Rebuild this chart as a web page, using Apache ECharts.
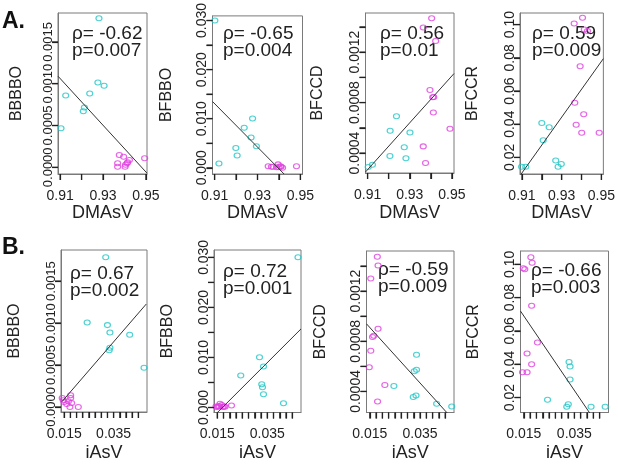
<!DOCTYPE html>
<html><head><meta charset="utf-8">
<script src="https://cdn.jsdelivr.net/npm/echarts@6/dist/echarts.min.js"></script>
<style>html,body{margin:0;padding:0;background:#fff}#c{width:618px;height:467px}</style>
</head><body><div id="c"></div>
<script>
// ---------- data ----------
const yNamesA = ['BBBBO','BFBBO','BFCCD','BFCCR'];
const yNamesB = ['BBBBO','BFBBO','BFCCD','BFCCR'];
const xNameA = 'DMAsV';
const xNameB = 'iAsV';
const rhoA = ['-0.62','-0.65','0.56','0.59'];
const pA   = ['0.007','0.004','0.01','0.009'];
const rhoB = ['0.67','0.72','-0.59','-0.66'];
const pB   = ['0.002','0.001','0.009','0.003'];

// tick values / tick labels
const xTicksA = [0.91,0.92,0.93,0.94,0.95];
const xLabelsA = [0.91,0.93,0.95];
const xTicksB = [0.015,0.0175,0.02,0.0225,0.025,0.0275,0.03,0.0325,0.035,0.0375,0.04,0.0425,0.045];
const xLabelsB = [0.015,0.035];
const yTicksBBBBO = [0,0.0005,0.001,0.0015];
const yLabelsBBBBO = [0,0.0005,0.001,0.0015];
const yTicksBFBBO = [0,0.005,0.01,0.015,0.02,0.025,0.03];
const yLabelsBFBBO = [0,0.01,0.02,0.03];
const yTicksBFCCD = [0.0004,0.0006,0.0008,0.001,0.0012,0.0014];
const yLabelsBFCCD = [0.0004,0.0008,0.0012];
const yTicksBFCCR = [0.02,0.04,0.06,0.08,0.1];
const yLabelsBFCCR = [0.02,0.04,0.06,0.08,0.1];

// Panel A1: BBBBO vs DMAsV
const a1Cyan = [[0.9281,0.001783],[0.9276,0.001015],[0.9305,0.000975],[0.9238,0.000883],[0.9126,0.00086],[0.9213,0.000716],[0.9208,0.000672],[0.9104,0.000466]];
const a1Magenta = [[0.9376,0.000147],[0.9396,0.000127],[0.9368,0.000048],[0.9368,0.000008],[0.9403,0.000008],[0.9412,0.000048],[0.9423,0.000088],[0.9494,0.000107],[0.9415,0.00006],[0.9405,0.00003]];
const a1Fit = [[0.909,0.00109],[0.9505,-0.00007]];
// Panel A2: BFBBO vs DMAsV
const a2Cyan = [[0.9101,0.0300],[0.9277,0.01005],[0.9238,0.00818],[0.927,0.00619],[0.9199,0.00406],[0.9205,0.00253],[0.912,0.00086],[0.9295,0.00439]];
const a2Magenta = [[0.935,0.0003],[0.9365,0.0002],[0.9389,0.0001],[0.9396,0.0007],[0.9407,0.0003],[0.9417,0.0000],[0.9482,0.0003],[0.9372,0.0002],[0.9400,0.0001],[0.9410,0.0002]];
const a2Fit = [[0.909,0.0135],[0.9424,-0.00126]];
// Panel A3: BFCCD vs DMAsV
const a3Cyan = [[0.9237,0.000692],[0.9207,0.000576],[0.9301,0.000563],[0.9274,0.000447],[0.9206,0.000376],[0.9282,0.000358],[0.9123,0.000308],[0.9103,0.000289]];
const a3Magenta = [[0.9404,0.001468],[0.9364,0.001395],[0.9423,0.001289],[0.9396,0.0009],[0.9409,0.000842],[0.9414,0.000845],[0.9412,0.000721],[0.9491,0.000592],[0.9364,0.000453],[0.9375,0.000321]];
const a3Fit = [[0.909,0.00025],[0.951,0.00103]];
// Panel A4: BFCCR vs DMAsV
const a4Cyan = [[0.92,0.0408],[0.9237,0.0382],[0.9207,0.0304],[0.927,0.0182],[0.9298,0.016],[0.9282,0.0144],[0.9098,0.0144],[0.9119,0.0144]];
const a4Magenta = [[0.9405,0.1042],[0.9363,0.1006],[0.9414,0.097],[0.943,0.0962],[0.9393,0.0749],[0.9366,0.0529],[0.9411,0.046],[0.9373,0.0396],[0.9401,0.0348],[0.9489,0.0348]];
const a4Fit = [[0.909,0.009],[0.951,0.0795]];
// Panel B1: BBBBO vs iAsV
const b1Cyan = [[0.0318,0.001783],[0.0243,0.001007],[0.0325,0.000975],[0.0335,0.000887],[0.0415,0.00086],[0.0335,0.000704],[0.0332,0.000676],[0.0473,0.000466]];
const b1Magenta = [[0.0142,0.000107],[0.0176,0.000139],[0.0176,0.000107],[0.015,0.00006],[0.016,0.000036],[0.0173,0.0],[0.018,0.000048],[0.0207,0.0],[0.0146,0.00008],[0.0167,0.000068]];
const b1Fit = [[0.014,0.00006],[0.0482,0.001226]];
// Panel B2: BFBBO vs iAsV
const b2Cyan = [[0.0473,0.030],[0.0319,0.01005],[0.0335,0.00818],[0.0244,0.00639],[0.0328,0.00466],[0.0331,0.00406],[0.0335,0.00266],[0.0415,0.00086]];
const b2Magenta = [[0.0145,0.0002],[0.0161,0.00073],[0.0177,0.0002],[0.0207,0.0004],[0.0154,0.0002],[0.0181,0.00013],[0.0168,0.0005],[0.0150,0.0001],[0.0172,0.0001],[0.0158,0.0003]];
const b2Fit = [[0.0144,-0.00133],[0.0485,0.0157]];
// Panel B3: BFCCD vs iAsV
const b3Cyan = [[0.0336,0.000693],[0.0336,0.000573],[0.0327,0.00056],[0.0246,0.000443],[0.0334,0.000368],[0.0323,0.000355],[0.0416,0.000301],[0.0476,0.00028]];
const b3Magenta = [[0.018,0.001475],[0.0183,0.001405],[0.0154,0.0013],[0.0183,0.0009],[0.0166,0.000845],[0.0161,0.000835],[0.0154,0.000725],[0.0148,0.000592],[0.021,0.000451],[0.0181,0.00032]];
const b3Fit = [[0.0137,0.000939],[0.0462,0.000219]];
// Panel B4: BFCCR vs iAsV
const b4Cyan = [[0.0329,0.0414],[0.0333,0.0386],[0.0333,0.0308],[0.0244,0.0186],[0.0326,0.016],[0.032,0.0144],[0.0416,0.0144],[0.0472,0.0144]];
const b4Magenta = [[0.0178,0.1042],[0.0183,0.101],[0.0154,0.097],[0.0148,0.0976],[0.0181,0.0751],[0.0204,0.0531],[0.0163,0.0465],[0.0181,0.04],[0.0145,0.0352],[0.0163,0.0352]];
const b4Fit = [[0.0137,0.0719],[0.0412,0.0104]];

// ---------- layout / styles ----------
const FONT = 'Liberation Sans, Arial, Helvetica, sans-serif';
const CYAN = '#22C6C6';
const MAGENTA = '#E040E0';
const BOX = '#7a7a7a';
const TICK = '#222';
const TICK_LEN = 6;
const panels = [
  {grid:{left:58,top:13,width:89,height:161}, xr:[0.909,0.9505], yr:[-0.00008,0.001846], xt:xTicksA, xl:xLabelsA, xd:2, yt:yTicksBBBBO, yl:yLabelsBBBBO, yd:4, yfs:13, xn:xNameA, yn:yNamesA[0], cyan:a1Cyan, mag:a1Magenta, fit:a1Fit, rho:rhoA[0], p:pA[0], tx:72, ty:24, xgap:30, ygap:33},
  {grid:{left:212.5,top:13,width:90,height:161}, xr:[0.909,0.951], yr:[-0.00126,0.03094], xt:xTicksA, xl:xLabelsA, xd:2, yt:yTicksBFBBO, yl:yLabelsBFBBO, yd:3, yfs:14, xn:xNameA, yn:yNamesA[1], cyan:a2Cyan, mag:a2Magenta, fit:a2Fit, rho:rhoA[1], p:pA[1], tx:223, ty:24, xgap:30, ygap:38},
  {grid:{left:365.5,top:13,width:88.5,height:160}, xr:[0.909,0.951], yr:[0.000242,0.00151], xt:xTicksA, xl:xLabelsA, xd:2, yt:yTicksBFCCD, yl:yLabelsBFCCD, yd:4, yfs:14, xn:xNameA, yn:yNamesA[2], cyan:a3Cyan, mag:a3Magenta, fit:a3Fit, rho:rhoA[2], p:pA[2], tx:380, ty:24, xgap:31, ygap:40},
  {grid:{left:520,top:13,width:88,height:161}, xr:[0.909,0.951], yr:[0.01,0.107], xt:xTicksA, xl:xLabelsA, xd:2, yt:yTicksBFCCR, yl:yLabelsBFCCR, yd:2, yfs:14, xn:xNameA, yn:yNamesA[3], cyan:a4Cyan, mag:a4Magenta, fit:a4Fit, rho:rhoA[3], p:pA[3], tx:532, ty:24, xgap:30, ygap:39},
  {grid:{left:61,top:250,width:86,height:162}, xr:[0.0137,0.0485], yr:[-0.00006,0.00187], xt:xTicksB, xl:xLabelsB, xd:3, yt:yTicksBBBBO, yl:yLabelsBBBBO, yd:4, yfs:13, xn:xNameB, yn:yNamesB[0], cyan:b1Cyan, mag:b1Magenta, fit:b1Fit, rho:rhoB[0], p:pB[0], tx:70, ty:264, xgap:32, ygap:38},
  {grid:{left:214,top:250,width:87,height:162.5}, xr:[0.0137,0.0485], yr:[-0.001,0.03147], xt:xTicksB, xl:xLabelsB, xd:3, yt:yTicksBFBBO, yl:yLabelsBFBBO, yd:3, yfs:14, xn:xNameB, yn:yNamesB[1], cyan:b2Cyan, mag:b2Magenta, fit:b2Fit, rho:rhoB[1], p:pB[1], tx:223, ty:262, xgap:32, ygap:38},
  {grid:{left:366.5,top:251,width:87.5,height:161.5}, xr:[0.0137,0.0485], yr:[0.000232,0.00152], xt:xTicksB, xl:xLabelsB, xd:3, yt:yTicksBFCCD, yl:yLabelsBFCCD, yd:4, yfs:14, xn:xNameB, yn:yNamesB[2], cyan:b3Cyan, mag:b3Magenta, fit:b3Fit, rho:rhoB[2], p:pB[2], tx:378, ty:260, xgap:32, ygap:38},
  {grid:{left:520.5,top:251,width:88,height:161.5}, xr:[0.0137,0.0485], yr:[0.011,0.108], xt:xTicksB, xl:xLabelsB, xd:3, yt:yTicksBFCCR, yl:yLabelsBFCCR, yd:2, yfs:14, xn:xNameB, yn:yNamesB[3], cyan:b4Cyan, mag:b4Magenta, fit:b4Fit, rho:rhoB[3], p:pB[3], tx:531, ty:261, xgap:32, ygap:39}
];

const grids = [], xAxes = [], yAxes = [], series = [], graphics = [];
panels.forEach((P, i) => {
  grids.push(Object.assign({show:true, borderColor:BOX, borderWidth:1, backgroundColor:'transparent'}, P.grid));
  xAxes.push({
    gridIndex:i, type:'value', min:P.xr[0], max:P.xr[1], position:'bottom',
    name:P.xn, nameLocation:'middle', nameGap:P.xgap,
    nameTextStyle:{fontSize:18, color:'#222', fontFamily:FONT},
    axisLine:{show:true, onZero:false, lineStyle:{color:BOX, width:1}}, splitLine:{show:false},
    axisTick:{show:true, inside:false, length:TICK_LEN, lineStyle:{color:TICK, width:1.2}, customValues:P.xt},
    axisLabel:{show:true, customValues:P.xl, showMinLabel:true, showMaxLabel:true, formatter:(v)=>Number(v).toFixed(P.xd), fontSize:14, color:'#222', fontFamily:FONT, margin:15}
  });
  yAxes.push({
    gridIndex:i, type:'value', min:P.yr[0], max:P.yr[1], position:'left',
    name:P.yn, nameLocation:'middle', nameGap:P.ygap, nameRotate:90,
    nameTextStyle:{fontSize:16, color:'#222', fontFamily:FONT},
    axisLine:{show:true, onZero:false, lineStyle:{color:BOX, width:1}}, splitLine:{show:false},
    axisTick:{show:true, inside:false, length:TICK_LEN, lineStyle:{color:TICK, width:1.2}, customValues:P.yt},
    axisLabel:{show:true, customValues:P.yl, showMinLabel:true, showMaxLabel:true, hideOverlap:false, rotate:90, formatter:(v)=>Number(v).toFixed(P.yd), fontSize:P.yfs, color:'#222', fontFamily:FONT, margin:3}
  });
  const sc = (data, col) => ({
    type:'scatter', xAxisIndex:i, yAxisIndex:i, data:data, symbol:'circle', symbolSize:[6,5],
    itemStyle:{color:'rgba(0,0,0,0)', borderColor:col, borderWidth:1.1}, silent:true, animation:false
  });
  series.push(sc(P.cyan, CYAN));
  series.push(sc(P.mag, MAGENTA));
  series.push({type:'line', xAxisIndex:i, yAxisIndex:i, data:P.fit, showSymbol:false, symbol:'none',
    lineStyle:{color:'#333', width:1}, silent:true, animation:false, clip:true});
  graphics.push({type:'text', left:P.tx, top:P.ty, silent:true,
    style:{text:'ρ= ' + P.rho + '\np=' + P.p, fontSize:19, lineHeight:17, fill:'#222', fontFamily:FONT}});
});
graphics.push({type:'text', left:2, top:10, style:{text:'A.', fontSize:23, fontWeight:'bold', fill:'#111', fontFamily:FONT}});
graphics.push({type:'text', left:2, top:236, style:{text:'B.', fontSize:23, fontWeight:'bold', fill:'#111', fontFamily:FONT}});

const chart = echarts.init(document.getElementById('c'), null, {renderer:'canvas'});
chart.setOption({
  animation:false,
  backgroundColor:'#fff',
  grid:grids, xAxis:xAxes, yAxis:yAxes, series:series, graphic:graphics
});

// extra tick marks from each panel's axes (convertToPixel), drawn as polylines
const tickEls = [];
panels.forEach((P, i) => {
  P.xt.forEach(v => {
    const pt = chart.convertToPixel({gridIndex:i}, [v, P.yr[0]]);
    if (pt && isFinite(pt[0])) tickEls.push({type:'polyline', silent:true, z:100,
      shape:{points:[[pt[0], pt[1]], [pt[0], pt[1] + TICK_LEN]]},
      style:{stroke:TICK, lineWidth:1.2, fill:null}});
  });
  P.yt.forEach(v => {
    const pt = chart.convertToPixel({gridIndex:i}, [P.xr[0], v]);
    if (pt && isFinite(pt[1])) tickEls.push({type:'polyline', silent:true, z:100,
      shape:{points:[[pt[0] - TICK_LEN, pt[1]], [pt[0], pt[1]]]},
      style:{stroke:TICK, lineWidth:1.2, fill:null}});
  });
});
chart.setOption({graphic:{elements:graphics.concat(tickEls)}});
</script></body></html>
